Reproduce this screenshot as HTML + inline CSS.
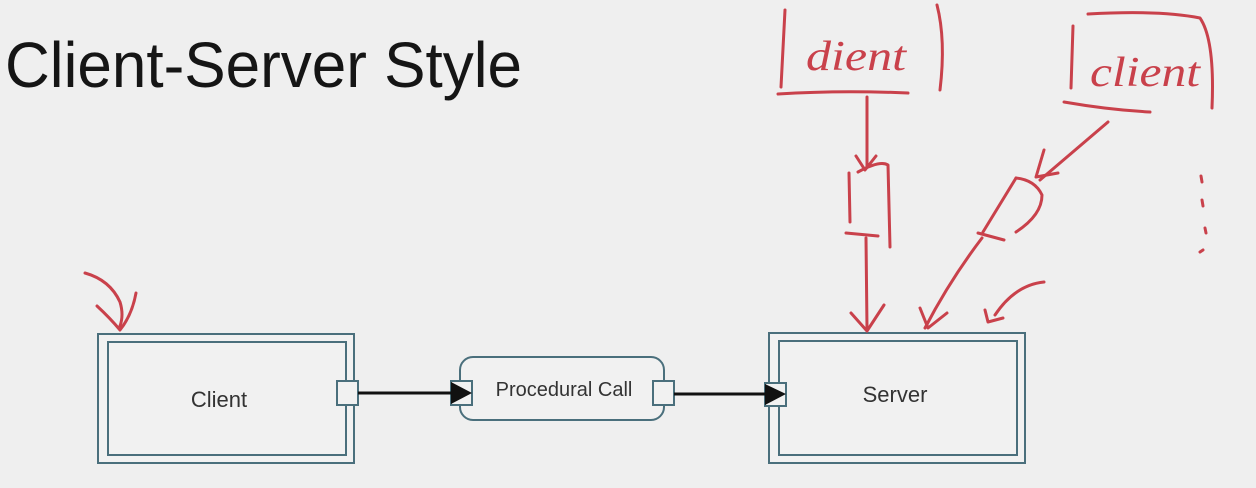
<!DOCTYPE html>
<html><head><meta charset="utf-8"><style>
html,body{margin:0;padding:0;background:#efefef;}
svg{display:block}
</style></head><body>
<svg width="1256" height="488" viewBox="0 0 1256 488" xmlns="http://www.w3.org/2000/svg">
<rect width="1256" height="488" fill="#efefef"/>
<text x="5" y="87" font-family="Liberation Sans, sans-serif" font-size="64" fill="#151515" textLength="517" lengthAdjust="spacingAndGlyphs">Client-Server Style</text>

<g fill="none" stroke="#4a6f7c" stroke-width="2">
  <rect x="98" y="334" width="256" height="129" fill="#f1f1f1"/>
  <rect x="108" y="342" width="238" height="113"/>
  <rect x="460" y="357" width="204" height="63" rx="13" fill="#f1f1f1"/>
  <rect x="769" y="333" width="256" height="130" fill="#f1f1f1"/>
  <rect x="779" y="341" width="238" height="114"/>
  <rect x="337" y="381" width="21" height="24" fill="#f1f1f1"/>
  <rect x="451" y="381" width="21" height="24" fill="#f1f1f1"/>
  <rect x="653" y="381" width="21" height="24" fill="#f1f1f1"/>
  <rect x="765" y="383" width="21" height="23" fill="#f1f1f1"/>
</g>
<g stroke="#111" stroke-width="3">
  <line x1="358" y1="393" x2="456" y2="393"/>
  <line x1="674" y1="394" x2="770" y2="394"/>
</g>
<polygon points="451,382 472,393 451,404" fill="#111"/>
<polygon points="765,384 786,394 765,405" fill="#111"/>
<g font-family="Liberation Sans, sans-serif" fill="#333" text-anchor="middle">
  <text x="219" y="407" font-size="22">Client</text>
  <text x="564" y="396" font-size="20">Procedural Call</text>
  <text x="895" y="402" font-size="22">Server</text>
</g>

<g fill="none" stroke="#c9414b" stroke-width="3" stroke-linecap="round" stroke-linejoin="round">
  <path d="M85 273 Q110 280 120 302 Q124 315 120 326"/>
  <path d="M97 306 Q110 318 120 330 Q132 315 136 293"/>
  <!-- client box 1 -->
  <path d="M785 10 L781 87"/>
  <path d="M778 94 Q840 90 908 93"/>
  <path d="M937 5 Q946 40 940 90"/>
  <!-- arrow down -->
  <path d="M867 97 L867 167"/>
  <path d="M856 156 L865 170 L876 156"/>
  <path d="M849 173 L850 222"/>
  <path d="M858 172 Q880 160 888 165 L890 247"/>
  <path d="M846 233 L878 236"/>
  <path d="M866 238 L867 328"/>
  <path d="M851 313 L867 331 L884 305"/>
  <!-- client box 2 -->
  <path d="M1073 26 L1071 88"/>
  <path d="M1088 14 Q1160 10 1200 18 Q1215 40 1212 108"/>
  <path d="M1064 102 Q1110 110 1150 112"/>
  <path d="M1108 122 L1040 180"/>
  <path d="M1044 150 L1036 177 L1058 173"/>
  <path d="M1016 178 Q1035 180 1042 195 Q1042 215 1016 232"/>
  <path d="M1016 178 L983 232"/>
  <path d="M978 233 L1004 240"/>
  <path d="M982 238 Q950 280 925 328"/>
  <path d="M920 308 L928 328 L947 313"/>
  <path d="M1044 282 Q1015 285 995 315"/>
  <path d="M985 310 L988 322 L1003 318"/>
  <path d="M1201 176 L1202 182 M1202 200 L1203 206 M1205 228 L1206 233 M1200 252 L1203 250"/>
</g>
<g font-family="Liberation Serif, serif" font-style="italic" fill="#c9414b" font-size="42">
  <text x="806" y="70" textLength="100" lengthAdjust="spacingAndGlyphs">dient</text>
  <text x="1090" y="86" textLength="110" lengthAdjust="spacingAndGlyphs">client</text>
</g>
</svg>
</body></html>
